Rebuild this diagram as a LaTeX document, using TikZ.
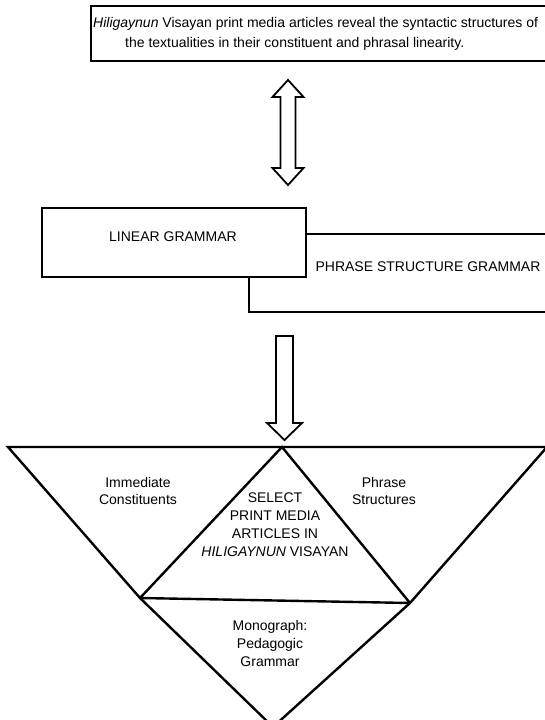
\documentclass[tikz,border=0pt]{standalone}
\usepackage{fontspec}
\setmainfont{Liberation Sans}
\begin{document}
\begin{tikzpicture}[x=1pt,y=-1pt,line join=miter,
  lbl/.style={font=\fontsize{14}{18}\selectfont,align=center,inner sep=0},
  blk/.style={draw,line width=2.5pt,fill=white},
  barrow/.style={draw,line width=1.8pt,fill=white}]
\useasboundingbox (0,0) rectangle (545,720); \clip (0,0) rectangle (545,720);
% statement box
\draw[blk] (91,6) rectangle (560,61);
\node[lbl,align=left,anchor=north west,font=\fontsize{14}{20.5}\selectfont] (claim) at (93,17) {\textit{Hiligaynun} Visayan print media articles reveal the syntactic structures of\\\hspace*{32pt}the textualities in their constituent and phrasal linearity.};
% two-way arrow
\draw[barrow] (288,80)--(303.5,97)--(295.5,97)--(295.5,168)--(303.5,168)--(288,185)--(272.5,168)--(280.5,168)--(280.5,97)--(272.5,97)--cycle;
% grammar boxes
\draw[blk] (249,234) rectangle (560,312);
\draw[blk] (42,208) rectangle (306,277);
\node[lbl] (lin) at (173,237) {LINEAR GRAMMAR};
\node[lbl] (psg) at (428,267) {PHRASE STRUCTURE GRAMMAR};
% down arrow
\draw[barrow] (276,336)--(293,336)--(293,423)--(302,423)--(284.5,440)--(267,423)--(276,423)--cycle;
% pyramid
\coordinate (TL) at (8,447); \coordinate (TR) at (547,447); \coordinate (A) at (282,447);
\coordinate (BL) at (140,598); \coordinate (BR) at (410,603); \coordinate (V) at (273,727);
\draw[line width=2.4pt] (TL)--(TR)--(BR)--(BL)--cycle; \draw[line width=2.4pt] (BL)--(A)--(BR);
\draw[line width=2.4pt] (BL)--(V)--(BR);
\node[lbl,font=\fontsize{14}{16.5}\selectfont] (ic) at (138,491) {Immediate\\Constituents};
\node[lbl,font=\fontsize{14}{16.5}\selectfont] (ps) at (384,491) {Phrase\\Structures};
\node[lbl] (sel) at (275,525) {SELECT\\PRINT MEDIA\\ARTICLES IN\\\textit{HILIGAYNUN} VISAYAN};
\node[lbl] (mono) at (270,643) {Monograph:\\Pedagogic\\Grammar};
\end{tikzpicture}
\end{document}
